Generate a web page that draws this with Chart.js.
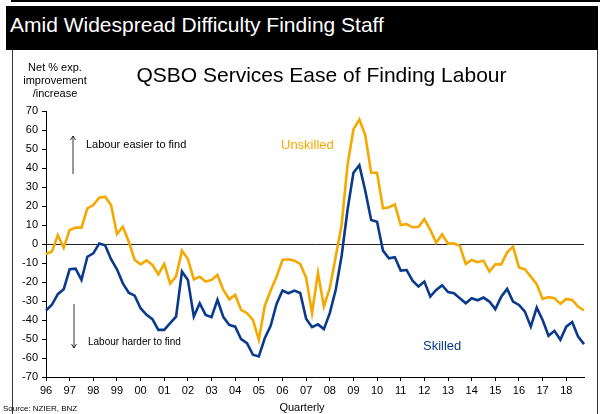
<!DOCTYPE html>
<html>
<head>
<meta charset="utf-8">
<script src="https://cdn.jsdelivr.net/npm/chart.js@4"></script>
<style>
  html, body { margin:0; padding:0; background:#fff; }
  body { width:607px; height:414px; position:relative; overflow:hidden; font-family:"Liberation Sans", Arial, sans-serif; }
  .abs { position:absolute; white-space:nowrap; }
  #topline { left:11px; top:0; width:589px; height:2px; background:#000; }
  #band { left:6px; top:6px; width:592px; height:44px; background:#000; }
  #title { left:10px; top:11px; color:#fff; font-size:21px; line-height:28px; }
  #fl { left:12px; top:50px; width:1px; height:364px; background:#333; }
  #fr { left:597px; top:50px; width:1px; height:364px; background:#333; }
  #sub { left:0; width:643px; top:62px; text-align:center; font-size:21px; line-height:26px; color:#000; }
  #ytitle { left:20px; width:70px; top:61px; text-align:center; font-size:11px; line-height:13px; color:#000; }
  #easier { left:86px; top:138px; font-size:11px; color:#000; }
  #harder { left:88px; top:336px; font-size:10px; color:#000; }
  #unsk { left:281px; top:137px; font-size:13px; color:#F5A800; }
  #skl { left:423px; top:338px; font-size:13px; color:#0A3A8C; }
  #quarterly { left:0; width:604px; top:401px; text-align:center; font-size:11px; color:#000; }
  #source { left:3px; top:404px; font-size:8px; color:#000; }
  canvas { position:absolute; left:0; top:0; }
  svg { position:absolute; left:0; top:0; }
</style>
</head>
<body>
<div class="abs" id="topline"></div>
<div class="abs" id="band"></div>
<div class="abs" id="title">Amid Widespread Difficulty Finding Staff</div>
<div class="abs" id="fl"></div>
<div class="abs" id="fr"></div>
<canvas id="c" width="607" height="414"></canvas>
<svg width="607" height="414">
  <g stroke="#000" stroke-width="0.8" fill="none">
    <line x1="73" y1="136" x2="73" y2="174"/>
    <polyline points="70.5,140 73,136 75.5,140"/>
    <line x1="74" y1="304" x2="74" y2="348"/>
    <polyline points="71.5,344 74,348 76.5,344"/>
  </g>
</svg>
<div class="abs" id="sub">QSBO Services Ease of Finding Labour</div>
<div class="abs" id="ytitle">Net % exp.<br>improvement<br>/increase</div>
<div class="abs" id="easier">Labour easier to find</div>
<div class="abs" id="harder">Labour harder to find</div>
<div class="abs" id="unsk">Unskilled</div>
<div class="abs" id="skl">Skilled</div>
<div class="abs" id="quarterly">Quarterly</div>
<div class="abs" id="source">Source: NZIER, BNZ</div>
<script>
const yearLabels = ['96','97','98','99','00','01','02','03','04','05','06','07','08','09','10','11','12','13','14','15','16','17','18'];
const quarterNames = ['Q1','Q2','Q3','Q4'];
const categories = [];
yearLabels.forEach(y => quarterNames.forEach(q => categories.push(y + q)));

const unskilled = [
  -5.3, -4, 4.7, -2, 7.4, 8.6, 8.6, 18.7, 20.5, 24.4,
  24.9, 20.5, 5.2, 9.1, 1.2, -8.4, -10.7, -8.6, -11, -16,
  -10.5, -20.8, -17, -3.5, -7.9, -18.6, -17.2, -19.8, -18.9, -16.3,
  -24.2, -29.1, -26.8, -34.7, -36.4, -40, -50.4, -32.6, -24.5, -17.2,
  -8.4, -8, -8.8, -10.5, -17.8, -36.4, -15.2, -32.9, -23.3, -6.7,
  10, 41.5, 60.3, 65.5, 57.3, 37.5, 37.5, 18.8, 19.3, 20.9,
  10, 10.5, 8.8, 9.1, 13.1, 7.4, 0.7, 5.1, 0.2, 0.3,
  -1, -10.5, -8.4, -9.6, -8.8, -14.5, -10.7, -10.7, -4.4, -1.4,
  -12.3, -13.3, -17.2, -21.2, -28.9, -28, -28.5, -31.5, -28.9, -29.4,
  -32.9, -35
];
const skilled = [
  -35, -32, -26.4, -23.8, -13.3, -13, -18.9, -6.7, -4.9, 0.3,
  -0.7, -8, -13.3, -20.7, -25.6, -27.2, -33.8, -37.3, -39.6, -45.2,
  -45.2, -41.7, -38.2, -14.5, -18.9, -38.2, -31.2, -37.3, -38.5, -29.4,
  -38.5, -42.6, -43.5, -50.1, -52.2, -58.3, -59.2, -49.6, -43.1, -31.5,
  -24.5, -25.9, -24.5, -25.8, -39.3, -43.8, -42.3, -44.8, -36.4, -24.2,
  -6.3, 17.9, 37.5, 41.5, 28, 12.6, 11.7, -3.5, -7.5, -7,
  -14, -13.7, -19.3, -22.4, -19.8, -27.7, -24.2, -21.7, -25.3, -25.9,
  -28.5, -31.2, -28.5, -29.6, -28.2, -30.3, -34.3, -27.7, -23.6, -30.3,
  -32.1, -35.6, -43.5, -33.5, -40, -48.3, -45.7, -50.4, -43.5, -41.1,
  -48.7, -52.7
];

const FONT = '"Liberation Sans", Arial, sans-serif';

new Chart(document.getElementById('c'), {
  type: 'line',
  data: {
    labels: categories,
    datasets: [
      { label: 'Unskilled', data: unskilled, borderColor: '#F5A800', borderWidth: 2.6, pointRadius: 0, tension: 0, fill: false },
      { label: 'Skilled', data: skilled, borderColor: '#0A3A8C', borderWidth: 2.6, pointRadius: 0, tension: 0, fill: false }
    ]
  },
  options: {
    responsive: false,
    animation: false,
    layout: { padding: { top: 111, right: 23, left: 0, bottom: 0 } },
    plugins: { legend: { display: false }, tooltip: { enabled: false }, title: { display: false } },
    scales: {
      x: {
        type: 'category',
        offset: false,
        grid: { drawOnChartArea: false, drawTicks: true, tickLength: 4, tickColor: '#000' },
        border: { display: true, color: '#000', width: 1 },
        ticks: {
          autoSkip: false, maxRotation: 0, minRotation: 0, padding: 3,
          color: '#000', font: { family: FONT, size: 11 },
          callback: function(value) { return yearLabels[Math.round(value / 4)]; }
        },
        afterBuildTicks: s => { s.ticks = s.ticks.filter(t => t.value % 4 === 0); },
        afterFit: s => { s.height = 37; }
      },
      y: {
        min: -70, max: 70,
        grid: {
          drawOnChartArea: true, drawTicks: true, tickLength: 4, tickColor: '#000',
          color: ctx => (ctx.tick && ctx.tick.value === 0) ? '#222' : 'rgba(0,0,0,0)',
          lineWidth: 1
        },
        border: { display: true, color: '#000', width: 1 },
        ticks: { stepSize: 10, padding: 4, color: '#000', font: { family: FONT, size: 11 } },
        afterFit: s => { s.width = 46; }
      }
    }
  }
});
</script>
</body>
</html>
